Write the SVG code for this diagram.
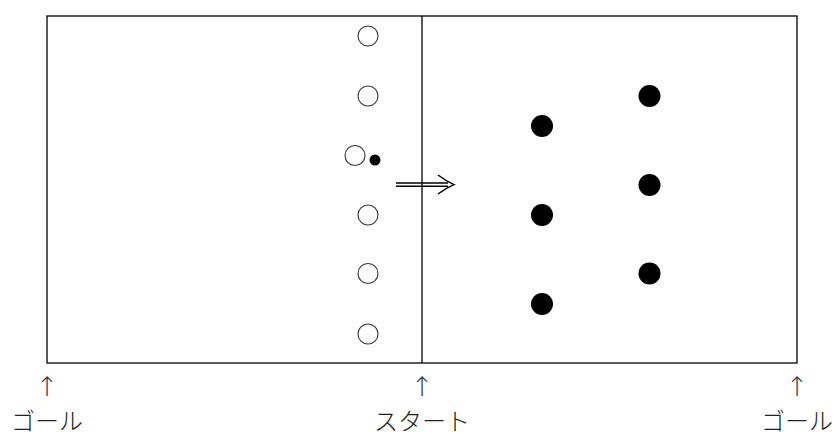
<svg xmlns="http://www.w3.org/2000/svg" width="838" height="436" viewBox="0 0 838 436">
<style>
.frame{fill:none;stroke:#000;stroke-width:1.3}
.open{fill:#fff;stroke:#333;stroke-width:1.1}
.filled{fill:#000}
.conn{fill:none;stroke:#000;stroke-width:1.5}
.lbl{font-family:"Noto Sans CJK JP",sans-serif;font-size:24px;font-weight:300;fill:#222;text-anchor:middle}
.up{font-family:"DejaVu Sans",sans-serif;font-size:27px;font-weight:200;fill:#444;text-anchor:middle}
</style>
<rect width="838" height="436" fill="#fff"/>
<g id="field">
<rect class="frame" x="47" y="16" width="750" height="347"/>
<line class="frame" x1="422" y1="16" x2="422" y2="363"/>
</g>
<g id="open-players">
<circle id="o1" class="open" cx="368" cy="36" r="10"/>
<circle id="o2" class="open" cx="368" cy="96" r="10"/>
<circle id="o3" class="open" cx="355" cy="155.5" r="10"/>
<circle id="o4" class="open" cx="368" cy="215" r="10"/>
<circle id="o5" class="open" cx="368" cy="273.5" r="10"/>
<circle id="o6" class="open" cx="368" cy="334" r="10"/>
</g>
<g id="ball"><circle class="filled" cx="375" cy="160" r="5.5"/></g>
<g id="filled-players">
<circle id="f1" class="filled" cx="542" cy="126" r="11"/>
<circle id="f2" class="filled" cx="542" cy="215" r="11"/>
<circle id="f3" class="filled" cx="542" cy="304" r="11"/>
<circle id="f4" class="filled" cx="649.5" cy="96" r="11"/>
<circle id="f5" class="filled" cx="649.5" cy="185" r="11"/>
<circle id="f6" class="filled" cx="649.5" cy="273.5" r="11"/>
</g>
<g id="connectors">
<line class="conn" x1="396" y1="182.9" x2="448" y2="182.9"/>
<line class="conn" x1="396" y1="186.3" x2="448" y2="186.3"/>
<path class="conn" d="M438,175 Q446,181 454,184.6 Q446,188 438,194"/>
</g>
<g id="label-goal-left">
<text class="up" x="47" y="396">↑&#xFE0E;</text>
<text class="lbl" x="47" y="430">ゴール</text>
</g>
<g id="label-start">
<text class="up" x="422" y="396">↑&#xFE0E;</text>
<text class="lbl" x="422" y="430">スタート</text>
</g>
<g id="label-goal-right">
<text class="up" x="797" y="396">↑&#xFE0E;</text>
<text class="lbl" x="797" y="430">ゴール</text>
</g>
</svg>
